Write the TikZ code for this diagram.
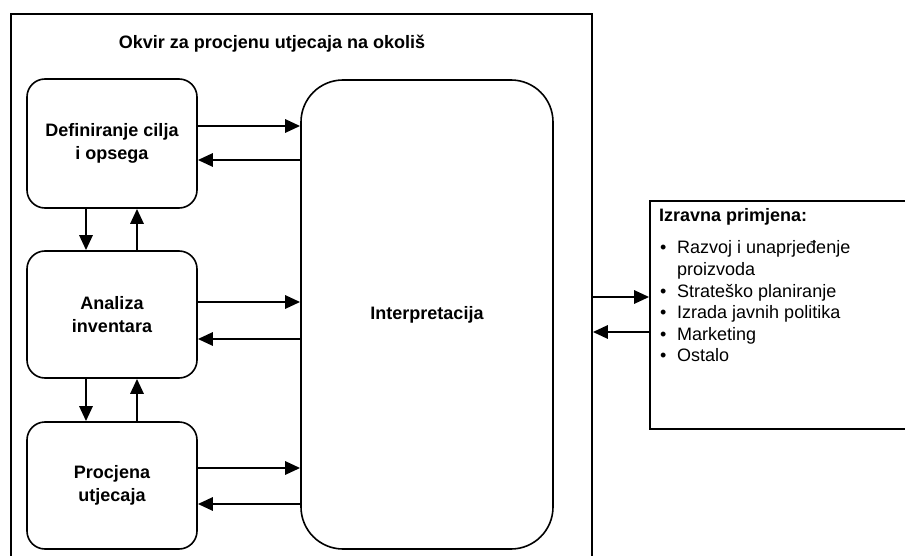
\documentclass[tikz,border=0pt]{standalone}
\usepackage{fontspec}
\setmainfont{Liberation Sans}
\usetikzlibrary{arrows.meta}
\begin{document}
\begin{tikzpicture}[x=1pt,y=-1pt,
  every node/.style={font=\fontsize{18}{23}\selectfont},
  stage/.style={draw, line width=1.6pt, rounded corners=18pt, minimum width=170pt, minimum height=127pt, inner sep=0pt, align=center, font=\fontsize{18}{23.5}\selectfont\bfseries},
  arr/.style={line width=2.8pt, -{Triangle[length=15pt,width=13pt]}},
  frm/.style={draw, line width=1.6pt, inner sep=0pt}]
\useasboundingbox (0,0) rectangle (905,556);
\node[frm, minimum width=581pt, minimum height=586pt] (frame) at (301.5,307) {};
\node[font=\fontsize{18}{22}\selectfont\bfseries, anchor=base] (title) at (272,49) {Okvir za procjenu utjecaja na okoliš};
\node[stage, minimum height=129pt] (def) at (112,143.5) {Definiranje cilja\\i opsega};
\node[stage] (inv) at (112,314.5) {Analiza\\inventara};
\node[stage] (imp) at (112,485.5) {Procjena\\utjecaja};
\node[stage, rounded corners=42pt, minimum width=252pt, minimum height=469pt] (int) at (427,314.5) {Interpretacija};
\node[frm, minimum width=300pt, minimum height=228pt] (app) at (800,315) {};
\node[anchor=north west, align=left, inner sep=0pt, font=\fontsize{18}{21.6}\selectfont] (list) at (659,208)
  {\textbf{Izravna primjena:}\\[11pt]
   \makebox[18pt][l]{\hspace{1pt}•}Razvoj i unaprjeđenje\\
   \hspace*{18pt}proizvoda\\
   \makebox[18pt][l]{\hspace{1pt}•}Strateško planiranje\\
   \makebox[18pt][l]{\hspace{1pt}•}Izrada javnih politika\\
   \makebox[18pt][l]{\hspace{1pt}•}Marketing\\
   \makebox[18pt][l]{\hspace{1pt}•}Ostalo};
% horizontal arrows
\draw[arr] (def.east |- 0,126) -- (int.west |- 0,126);
\draw[arr] (int.west |- 0,160) -- (def.east |- 0,160);
\draw[arr] (inv.east |- 0,302) -- (int.west |- 0,302);
\draw[arr] (int.west |- 0,339) -- (inv.east |- 0,339);
\draw[arr] (imp.east |- 0,468) -- (int.west |- 0,468);
\draw[arr] (int.west |- 0,504) -- (imp.east |- 0,504);
% vertical arrows
\draw[arr] (def.south -| 86,0) -- (inv.north -| 86,0);
\draw[arr] (inv.north -| 137,0) -- (def.south -| 137,0);
\draw[arr] (inv.south -| 86,0) -- (imp.north -| 86,0);
\draw[arr] (imp.north -| 137,0) -- (inv.south -| 137,0);
% to applications
\draw[arr] (frame.east |- 0,297) -- (app.west |- 0,297);
\draw[arr] (app.west |- 0,332) -- (frame.east |- 0,332);
\end{tikzpicture}
\end{document}
